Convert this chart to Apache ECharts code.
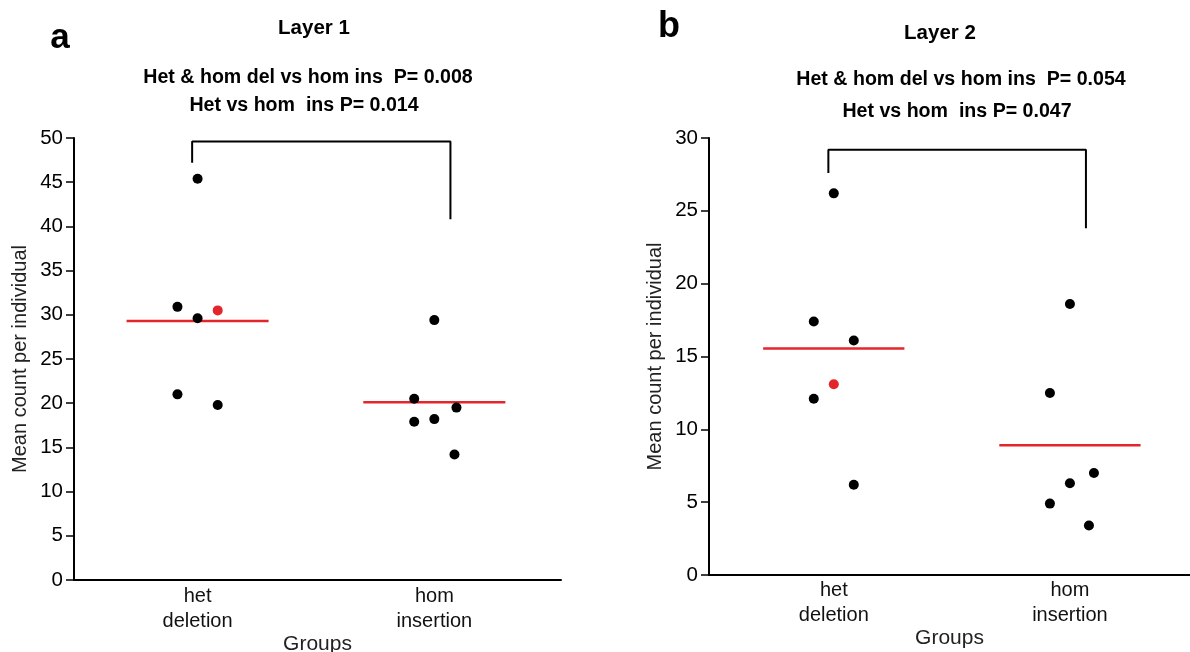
<!DOCTYPE html>
<html>
<head>
<meta charset="utf-8">
<script src="https://cdn.jsdelivr.net/npm/echarts@6/dist/echarts.min.js"></script>
<style>
  html, body { margin: 0; padding: 0; background: #fff; }
  #chart { width: 1190px; height: 652px; }
</style>
</head>
<body>
<div id="chart"></div>
<script>
// ---- data ----
const groupLabels = ['het\ndeletion', 'hom\ninsertion'];
const layer1Ticks = [0, 5, 10, 15, 20, 25, 30, 35, 40, 45, 50];
const layer2Ticks = [0, 5, 10, 15, 20, 25, 30];

// Layer 1: per-individual mean counts
const layer1Het = [45.4, 30.9, 29.6, 30.5, 21.0, 19.8];
const layer1Hom = [29.4, 20.5, 19.5, 18.2, 17.9, 14.2];
const layer1Means = [29.3, 20.1];
// Layer 2: per-individual mean counts
const layer2Het = [26.2, 17.4, 16.1, 13.1, 12.1, 6.2];
const layer2Hom = [18.6, 12.5, 7.0, 6.3, 4.9, 3.4];
const layer2Means = [15.55, 8.9];

// index of the highlighted (red) individual in the het group
const highlightIndex = 3;

// horizontal jitter slots (-1 left, 0 centre, +1 right)
const layer1HetJitter = [0, -1, 0, 1, -1, 1];
const layer1HomJitter = [0, -1, 1.1, 0, -1, 1];
const layer2HetJitter = [0, -1, 1, 0, -1, 1];
const layer2HomJitter = [0, -1, 1.2, 0, -1, 0.95];

// significance brackets (y in data units)
const layer1Bracket = { top: 49.6, left: 47.2, right: 40.8 };
const layer2Bracket = { top: 29.2, left: 27.6, right: 23.8 };

const titles = ['Layer 1', 'Layer 2'];
const pLines1 = ['Het & hom del vs hom ins  P= 0.008', 'Het vs hom  ins P= 0.014'];
const pLines2 = ['Het & hom del vs hom ins  P= 0.054', 'Het vs hom  ins P= 0.047'];

// ---- layout ----
const FONT = "'Liberation Sans', Arial, Helvetica, sans-serif";
const JIT = 0.085;      // jitter step in x units
const HALF = 0.30;      // half width of mean line in x units

const panels = [
  { grid: { left: 74, top: 138, width: 487, height: 442 }, xMax: 2.057, centers: [0.522, 1.522],
    het: layer1Het, hom: layer1Hom, means: layer1Means, hetJ: layer1HetJitter, homJ: layer1HomJitter,
    bracket: layer1Bracket, ticks: layer1Ticks, labelMargin: 4, nameGap: 54 },
  { grid: { left: 709, top: 138, width: 481, height: 437 }, xMax: 2.043, centers: [0.530, 1.533],
    het: layer2Het, hom: layer2Hom, means: layer2Means, hetJ: layer2HetJitter, homJ: layer2HomJitter,
    bracket: layer2Bracket, ticks: layer2Ticks, labelMargin: 3, nameGap: 53 }
];

const grids = [], xAxes = [], yAxes = [], series = [];

panels.forEach((p, i) => {
  grids.push(Object.assign({ containLabel: false, outerBoundsMode: 'none' }, p.grid));
  const centers = p.centers;
  xAxes.push({
    type: 'value', gridIndex: i, min: 0, max: p.xMax,
    axisLine: { show: true, lineStyle: { color: '#000', width: 2 } },
    axisTick: { show: false },
    splitLine: { show: false },
    axisLabel: {
      customValues: centers,
      formatter: (v) => {
        const k = Math.abs(v - centers[0]) < Math.abs(v - centers[1]) ? 0 : 1;
        return groupLabels[k];
      },
      color: '#111', fontFamily: FONT, fontSize: 20, lineHeight: 25, margin: p.labelMargin
    },
    name: 'Groups', nameLocation: 'middle', nameGap: p.nameGap, nameMoveOverlap: false,
    nameTextStyle: { color: '#222', fontFamily: FONT, fontSize: 21 }
  });
  const t = p.ticks;
  yAxes.push({
    type: 'value', gridIndex: i, min: t[0], max: t[t.length - 1], interval: t[1] - t[0],
    axisLine: { show: true, lineStyle: { color: '#000', width: 2 } },
    axisTick: { show: true, length: 8, lineStyle: { color: '#000', width: 1.5 } },
    splitLine: { show: false },
    axisLabel: { color: '#000', fontFamily: FONT, fontSize: 20.5, margin: 11 },
    name: 'Mean count per individual', nameLocation: 'middle', nameGap: 44, nameMoveOverlap: false,
    nameTextStyle: { color: '#222', fontFamily: FONT, fontSize: 20 }
  });

  const black = [], red = [];
  p.het.forEach((v, k) => {
    const pt = [centers[0] + p.hetJ[k] * JIT, v];
    (k === highlightIndex ? red : black).push(pt);
  });
  p.hom.forEach((v, k) => black.push([centers[1] + p.homJ[k] * JIT, v]));

  // mean lines
  p.means.forEach((m, g) => {
    series.push({
      type: 'line', xAxisIndex: i, yAxisIndex: i, symbol: 'none', silent: true, z: 2,
      lineStyle: { color: '#e3262c', width: 2.5 },
      data: [[centers[g] - HALF, m], [centers[g] + HALF, m]]
    });
  });
  // significance bracket
  const b = p.bracket;
  const bx0 = centers[0] - 0.023, bx1 = centers[1] + 0.068;
  series.push({
    type: 'line', xAxisIndex: i, yAxisIndex: i, symbol: 'none', silent: true, z: 2,
    lineStyle: { color: '#000', width: 2 },
    data: [[bx0, b.left], [bx0, b.top], [bx1, b.top], [bx1, b.right]]
  });
  series.push({
    type: 'scatter', xAxisIndex: i, yAxisIndex: i, symbolSize: 10, z: 5,
    itemStyle: { color: '#000', opacity: 1 }, data: black
  });
  series.push({
    type: 'scatter', xAxisIndex: i, yAxisIndex: i, symbolSize: 10, z: 5,
    itemStyle: { color: '#e3262c', opacity: 1 }, data: red
  });
});

function txt(x, y, text, size, bold) {
  return {
    type: 'text', x: x, y: y,
    style: { text: text, fill: '#000', font: (bold ? 'bold ' : '') + size + 'px ' + FONT,
             align: 'center', verticalAlign: 'middle' }
  };
}

const graphics = [
  txt(60, 38, 'a', 35, true),
  txt(669, 27, 'b', 36, true),
  txt(314, 28, titles[0], 20.5, true),
  txt(308, 77.5, pLines1[0], 19.6, true),
  txt(304, 106, pLines1[1], 19.6, true),
  txt(940, 33, titles[1], 20.5, true),
  txt(961, 80, pLines2[0], 19.6, true),
  txt(957, 112, pLines2[1], 19.6, true)
];

const chart = echarts.init(document.getElementById('chart'), null, { renderer: 'canvas' });
chart.setOption({
  animation: false,
  backgroundColor: '#fff',
  grid: grids,
  xAxis: xAxes,
  yAxis: yAxes,
  series: series,
  graphic: graphics
});
</script>
</body>
</html>
